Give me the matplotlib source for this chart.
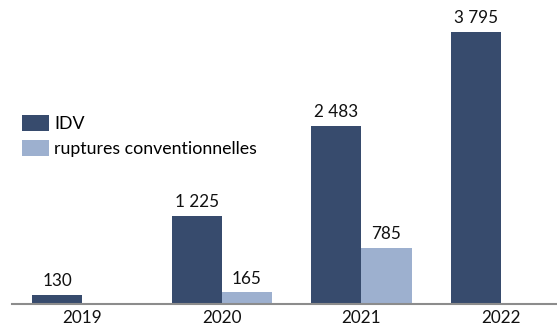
import matplotlib
matplotlib.use("Agg")
import matplotlib.pyplot as plt
import numpy as np

years = ["2019", "2020", "2021", "2022"]
idv = [130, 1225, 2483, 3795]
ruptures = [None, 165, 785, None]
series_names = ["IDV", "ruptures conventionnelles"]

dark = "#374b6d"
light = "#9db0cf"
text_color = "#111111"

plt.rcParams["font.family"] = ["Lato", "DejaVu Sans"]

W, H = 557, 326
fig = plt.figure(figsize=(W / 100, H / 100), dpi=100)
ax = fig.add_axes([12 / W, 22 / H, 1 - 12 / W, 1 - 22 / H])

x = np.arange(len(years))
bw = 0.36

def fmt(v):
    return f"{v:,}".replace(",", " ")

b1 = ax.bar(x - bw / 2, idv, width=bw, color=dark, label=series_names[0])
rx = [xi + bw / 2 for xi, v in zip(x, ruptures) if v is not None]
rv = [v for v in ruptures if v is not None]
b2 = ax.bar(rx, rv, width=bw, color=light, label=series_names[1])

for xi, v in zip(x - bw / 2, idv):
    ax.annotate(fmt(v), (xi, v), xytext=(0, 4), textcoords="offset points",
                ha="center", va="bottom", fontsize=12.3, color=text_color)
for xi, v in zip(rx, rv):
    ax.annotate(fmt(v), (xi, v), xytext=(0, 4), textcoords="offset points",
                ha="center", va="bottom", fontsize=12.3, color=text_color)

ax.set_xlim(-0.505, 3.403)
ax.set_ylim(0, 4234)
ax.set_xticks(x)
ax.set_xticklabels(years, fontsize=12.3, color=text_color)
ax.tick_params(axis="x", length=0, pad=4)
ax.set_yticks([])
for s in ["top", "right", "left"]:
    ax.spines[s].set_visible(False)
ax.spines["bottom"].set_color("#8c8c8c")
ax.spines["bottom"].set_linewidth(1.5)

ax.legend(handles=[b1, b2], loc="upper left", bbox_to_anchor=(22 / W, 1 - 115 / H),
          bbox_transform=fig.transFigure, frameon=False, fontsize=12.8,
          handlelength=1.5, handleheight=1.0, handletextpad=0.3,
          labelspacing=0.45, borderpad=0, borderaxespad=0)

fig.savefig("out.png", dpi=100)
